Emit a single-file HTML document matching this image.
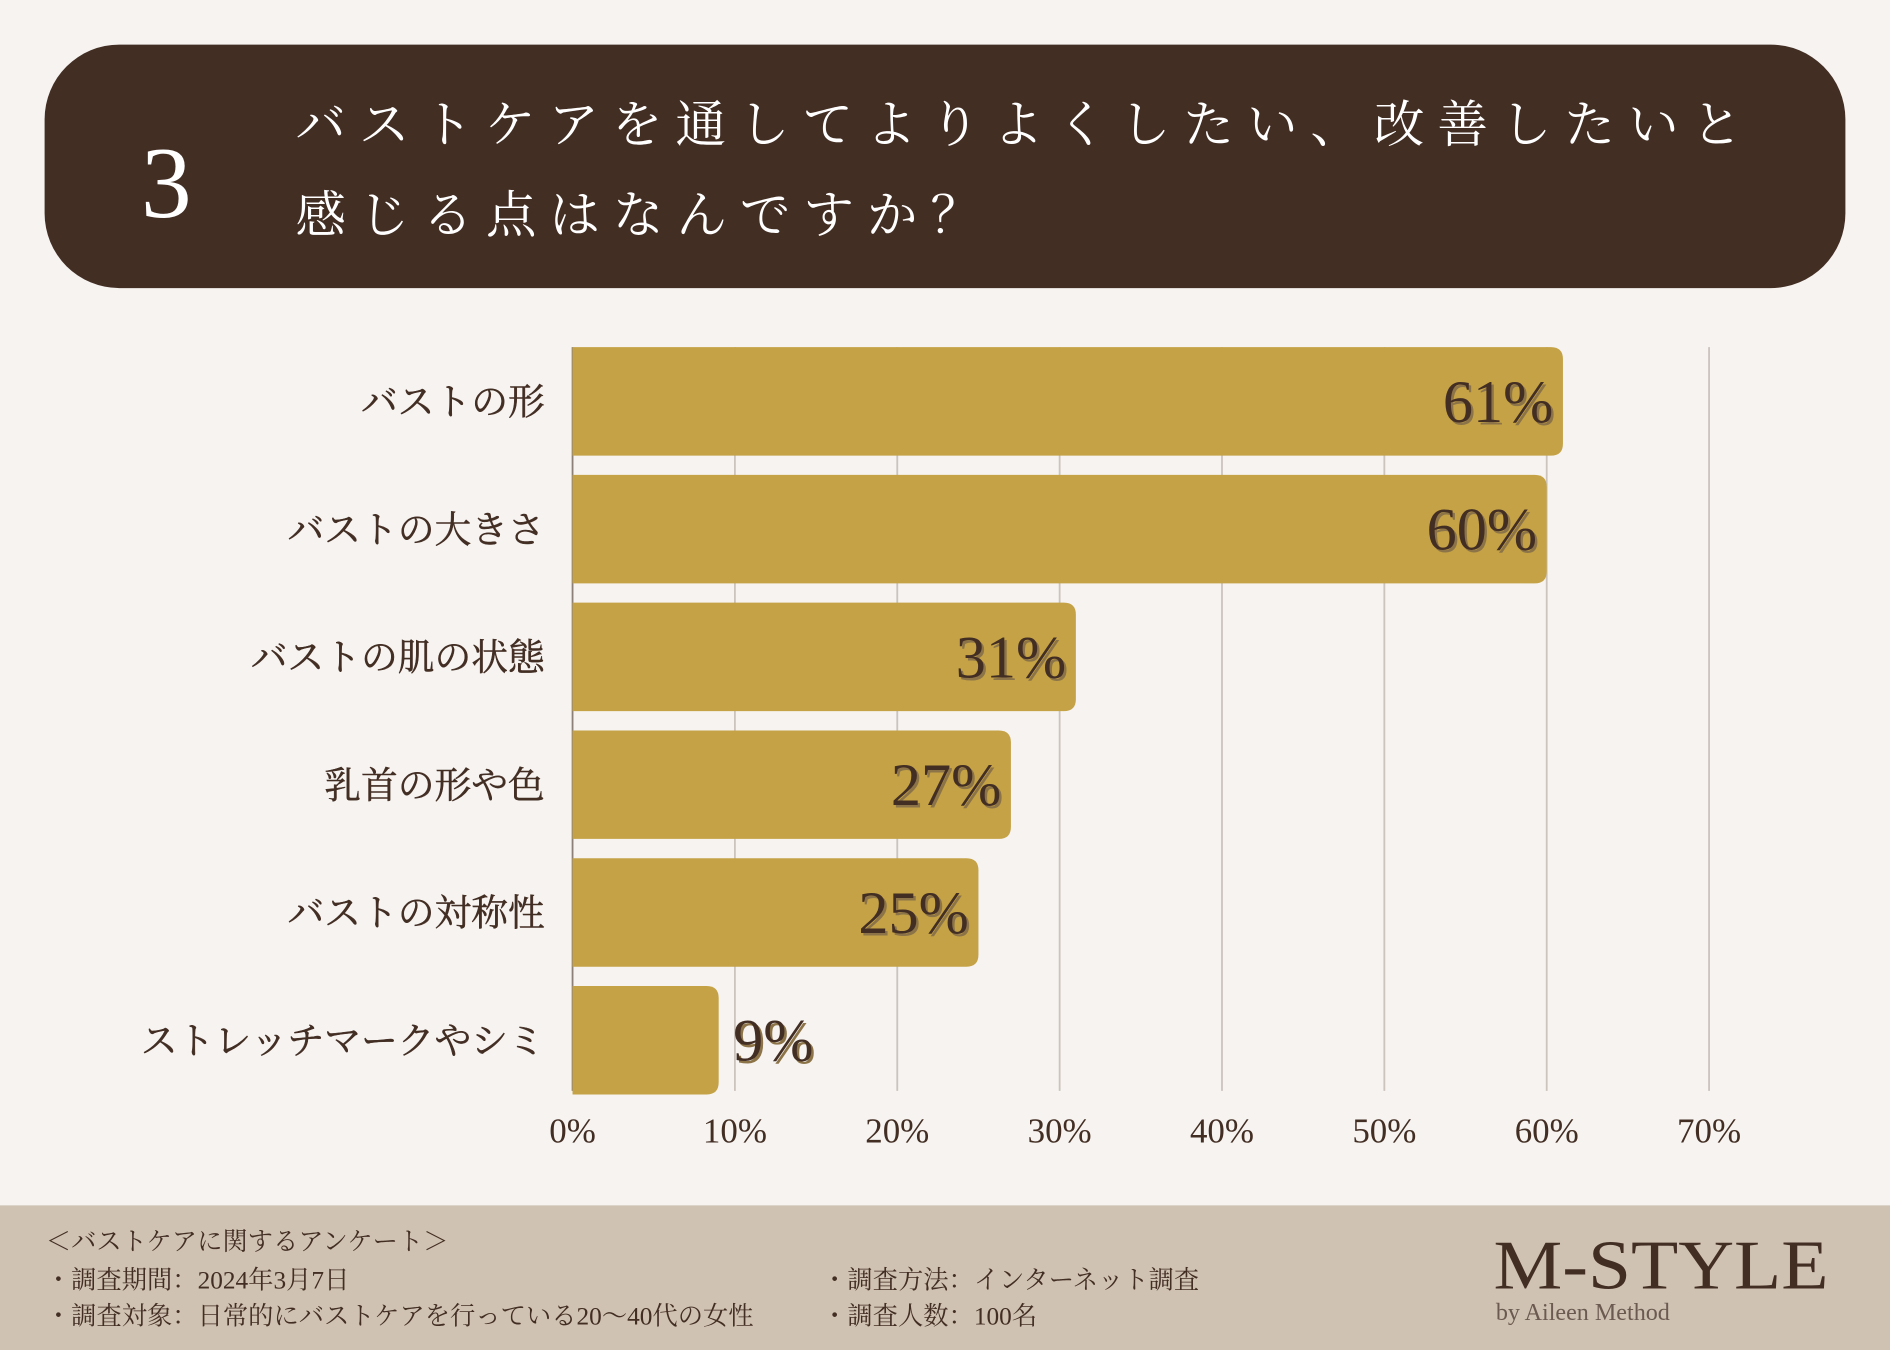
<!DOCTYPE html>
<html><head><meta charset="utf-8"><style>
html,body{margin:0;padding:0;background:#f6f3f0}
svg{display:block}
.s{font-family:"Liberation Serif","Noto Serif CJK SC",serif}
.j{font-family:"Liberation Serif","Noto Serif CJK SC","Noto Sans CJK JP",serif}
</style></head><body>
<svg id="chart" width="1890" height="1350" viewBox="0 0 1568 1120" preserveAspectRatio="none" xmlns="http://www.w3.org/2000/svg">
<rect width="1568" height="1120" fill="#f6f3f0"/>
<rect x="37" y="37" width="1494" height="202" rx="62" fill="#432e24"/>
<text x="138" y="180" font-size="84" fill="#fff" text-anchor="middle" class="s">3</text>
<text x="245" y="118" font-size="42" fill="#fff" letter-spacing="10.7" class="j">バストケアを通してよりよくしたい、改善したいと</text>
<text x="245" y="193" font-size="42" fill="#fff" letter-spacing="10.7" class="j">感じる点はなんですか？</text>
<g id="grid"></g><g id="bars"></g><g id="ticks"></g>
<rect x="0" y="1000" width="1568" height="120" fill="#cfc2b2"/>
<g class="j" fill="#432e24" font-size="21">
<text x="38" y="1037">＜バストケアに関するアンケート＞</text>
<text x="38" y="1069">・調査期間：2024年3月7日</text>
<text x="38" y="1099">・調査対象：日常的にバストケアを行っている20〜40代の女性</text>
<text x="682" y="1069">・調査方法：インターネット調査</text>
<text x="682" y="1099">・調査人数：100名</text>
</g>
<text x="1378" y="1069" font-size="58" fill="#432e24" text-anchor="middle" class="s" textLength="278" lengthAdjust="spacingAndGlyphs">M-STYLE</text>
<text x="1241" y="1095" font-size="20" fill="#6b5a50" class="s">by Aileen Method</text>
</svg>
<script>
const categories=["バストの形","バストの大きさ","バストの肌の状態","乳首の形や色","バストの対称性","ストレッチマークやシミ"];
const values=[61,60,31,27,25,9];
const valueLabels=["61%","60%","31%","27%","25%","9%"];
const tickValues=[0,10,20,30,40,50,60,70];
const tickLabels=["0%","10%","20%","30%","40%","50%","60%","70%"];
const NS="http://www.w3.org/2000/svg";
const X0=475,PX=134.7,TOP=288,STEP=106,BH=90;
const xs=v=>X0+v*PX/10;
const ys=i=>TOP+i*STEP;
function mk(t,a,p){const e=document.createElementNS(NS,t);for(const k in a)e.setAttribute(k,a[k]);p.appendChild(e);return e;}
const grid=document.getElementById('grid'),bars=document.getElementById('bars'),ticks=document.getElementById('ticks');
tickValues.forEach((v,i)=>{
 const l=mk('line',{x1:xs(v),x2:xs(v),y1:TOP,y2:905,stroke:v===0?'#8c8078':'#cbc3bc','stroke-width':1.5},grid);
 
 
 const t=mk('text',{x:xs(v),y:948,'font-size':29,fill:'#432e24','text-anchor':'middle',class:'s'},ticks);
 t.textContent=tickLabels[i];
 
 
});
values.forEach((v,i)=>{
 const y=ys(i),x1=xs(v),r=10;
 const p=mk('path',{d:`M${X0} ${y}H${x1-r}Q${x1} ${y} ${x1} ${y+r}V${y+BH-r}Q${x1} ${y+BH} ${x1-r} ${y+BH}H${X0}Z`,fill:'#c4a245'},bars);
 
 
 const c=mk('text',{x:452,y:y+BH/2+11,'font-size':30.5,fill:'#432e24','text-anchor':'end',class:'j',stroke:'#432e24','stroke-width':0.4},bars);
 c.textContent=categories[i];
 
 
 const inside=v>15;
 const lx=inside?x1-8:x1+12, anc=inside?'end':'start';
 const sh=mk('text',{x:lx+2,y:y+BH/2+19,'font-size':50,fill:'#8c7448','text-anchor':anc,class:'s'},bars);
 sh.textContent=valueLabels[i];
 
 
 const vl=mk('text',{x:lx,y:y+BH/2+17,'font-size':50,fill:'#432e24','text-anchor':anc,class:'s'},bars);
 vl.textContent=valueLabels[i];
 
 
});
</script>
</body></html>
